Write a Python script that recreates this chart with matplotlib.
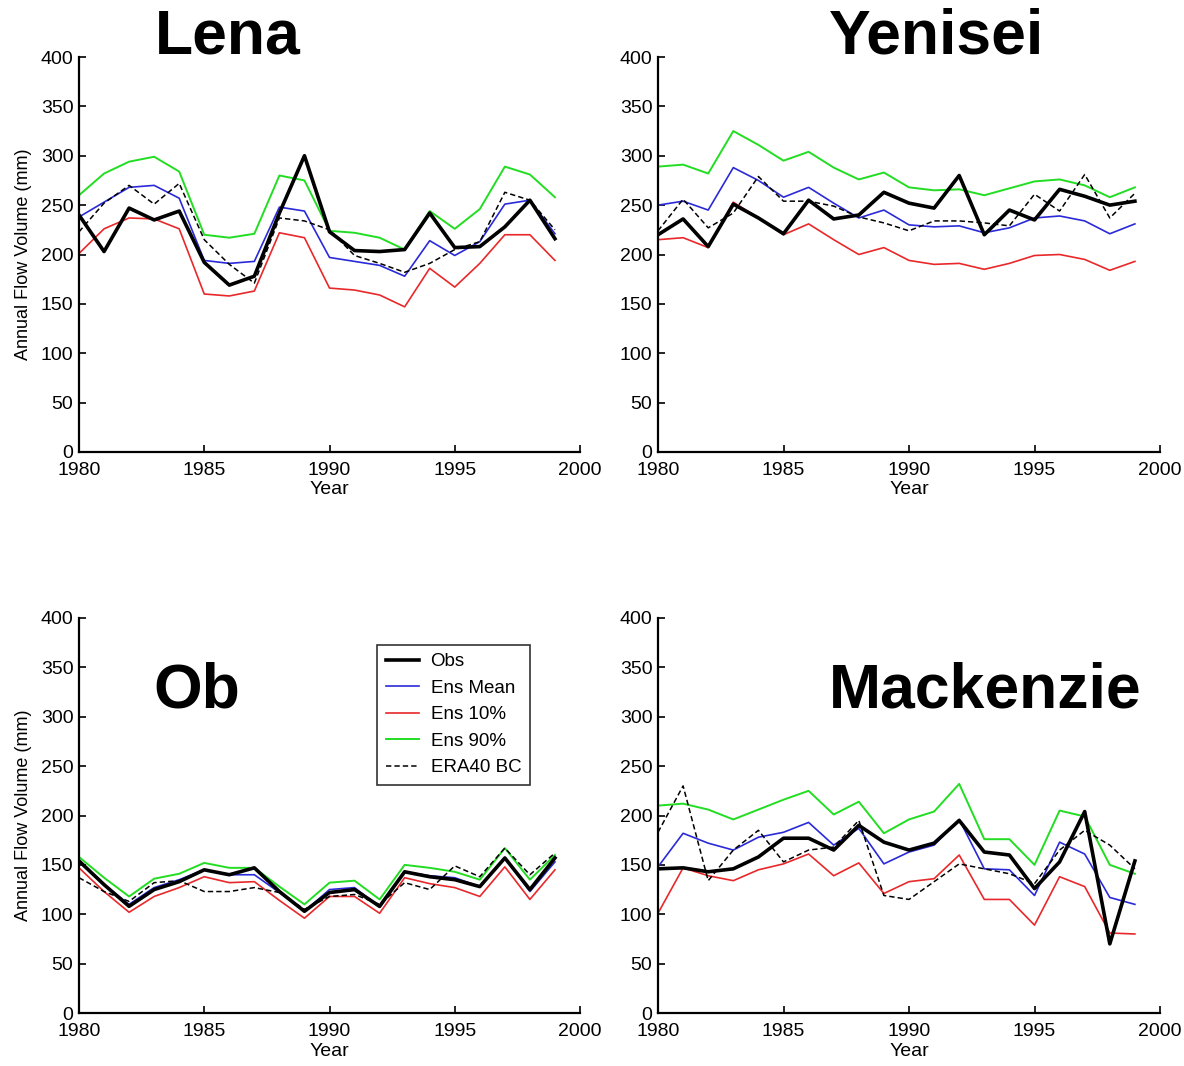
import matplotlib
matplotlib.use("Agg")
import matplotlib.pyplot as plt
import numpy as np

years = list(range(1980, 2000))

basins = ["Lena", "Yenisei", "Ob", "Mackenzie"]

lena_obs = [240, 203, 247, 235, 244, 192, 169, 178, 242, 300, 223, 204, 203, 205, 242, 207, 208, 228, 255, 216]
lena_mean = [238, 253, 268, 270, 257, 194, 191, 193, 248, 244, 197, 193, 189, 178, 214, 199, 213, 251, 255, 221]
lena_p10 = [201, 226, 237, 236, 226, 160, 158, 163, 222, 217, 166, 164, 159, 147, 186, 167, 191, 220, 220, 194]
lena_p90 = [260, 282, 294, 299, 284, 220, 217, 221, 280, 275, 224, 222, 217, 205, 244, 226, 246, 289, 281, 258]
lena_era = [223, 252, 270, 251, 272, 215, 190, 171, 237, 234, 225, 199, 191, 182, 191, 205, 213, 263, 255, 225]

yen_obs = [220, 236, 208, 251, 237, 221, 255, 236, 240, 263, 252, 247, 280, 220, 245, 235, 266, 259, 250, 254]
yen_mean = [250, 254, 245, 288, 275, 258, 268, 252, 237, 245, 230, 228, 229, 222, 227, 237, 239, 234, 221, 231]
yen_p10 = [215, 217, 207, 253, 237, 220, 231, 215, 200, 207, 194, 190, 191, 185, 191, 199, 200, 195, 184, 193]
yen_p90 = [289, 291, 282, 325, 311, 295, 304, 288, 276, 283, 268, 265, 266, 260, 267, 274, 276, 270, 258, 268]
yen_era = [224, 256, 227, 242, 279, 254, 254, 249, 238, 232, 224, 234, 234, 232, 229, 261, 244, 281, 237, 262]

ob_obs = [154, 130, 108, 125, 133, 145, 140, 147, 123, 103, 122, 125, 108, 143, 138, 135, 128, 157, 125, 157]
ob_mean = [153, 130, 110, 127, 135, 145, 140, 140, 122, 103, 125, 127, 107, 143, 139, 137, 128, 157, 123, 153]
ob_p10 = [147, 123, 102, 118, 127, 138, 132, 133, 114, 96, 118, 118, 101, 137, 131, 127, 118, 148, 115, 145]
ob_p90 = [158, 137, 118, 136, 141, 152, 147, 147, 128, 110, 132, 134, 115, 150, 147, 143, 135, 167, 135, 160]
ob_era = [137, 123, 113, 132, 134, 123, 123, 127, 122, 105, 118, 120, 110, 132, 125, 149, 138, 167, 140, 162]

mac_obs = [146, 147, 143, 146, 158, 177, 177, 165, 190, 173, 165, 172, 195, 163, 160, 126, 153, 204, 70, 154]
mac_mean = [148, 182, 172, 165, 178, 183, 193, 170, 187, 151, 163, 170, 196, 146, 145, 119, 173, 161, 117, 110]
mac_p10 = [101, 147, 139, 134, 145, 151, 161, 139, 152, 121, 133, 136, 160, 115, 115, 89, 138, 128, 81, 80]
mac_p90 = [210, 212, 206, 196, 206, 216, 225, 201, 214, 182, 196, 204, 232, 176, 176, 150, 205, 199, 150, 141]
mac_era = [183, 230, 134, 165, 185, 153, 165, 168, 195, 119, 115, 133, 151, 146, 141, 131, 165, 185, 170, 146]

series_labels = ["Obs", "Ens Mean", "Ens 10%", "Ens 90%", "ERA40 BC"]
data = [
    [lena_obs, lena_mean, lena_p10, lena_p90, lena_era],
    [yen_obs, yen_mean, yen_p10, yen_p90, yen_era],
    [ob_obs, ob_mean, ob_p10, ob_p90, ob_era],
    [mac_obs, mac_mean, mac_p10, mac_p90, mac_era],
]

plt.rcParams['font.family'] = ['Liberation Sans', 'DejaVu Sans']

W, H = 1184, 1066
fig = plt.figure(figsize=(W / 100, H / 100), dpi=100)

def px_axes(x0, y0, x1, y1):
    return fig.add_axes([x0 / W, 1 - y1 / H, (x1 - x0) / W, (y1 - y0) / H])

boxes = [(79, 57, 580, 452), (658, 57, 1160, 452), (79, 618, 580, 1013), (658, 618, 1160, 1013)]
styles = [
    dict(color="black", lw=2.6, ls="-"),
    dict(color="#2a2ad8", lw=1.2, ls="-"),
    dict(color="#e8282a", lw=1.2, ls="-"),
    dict(color="#22dd22", lw=1.4, ls="-"),
    dict(color="black", lw=1.1, ls=(0, (3.5, 2))),
]
draw_order = [3, 1, 2, 4, 0]

for k, box in enumerate(boxes):
    ax = px_axes(*box)
    handles = {}
    for s in draw_order:
        ln, = ax.plot(years, data[k][s], label=series_labels[s], **styles[s])
        handles[s] = ln
    ax.set_xlim(1980, 2000)
    ax.set_ylim(0, 400)
    ax.set_xticks([1980, 1985, 1990, 1995, 2000])
    ax.set_yticks(range(0, 401, 50))
    ax.spines['top'].set_visible(False)
    ax.spines['right'].set_visible(False)
    ax.spines['left'].set_linewidth(1.6)
    ax.spines['bottom'].set_linewidth(1.6)
    ax.tick_params(direction='in', length=5, width=1.2, labelsize=14)
    ax.tick_params(axis='x', pad=7)
    ax.tick_params(axis='y', pad=4)
    ax.set_xlabel("Year", fontsize=14, labelpad=2)
    if k in (0, 2):
        ax.set_ylabel("Annual Flow Volume (mm)", fontsize=13, labelpad=6)
    if k == 2:
        leg = ax.legend([handles[i] for i in range(5)], series_labels, loc='upper left',
                        bbox_to_anchor=(0.595, 0.932), borderaxespad=0,
                        fontsize=13.5, frameon=True,
                        fancybox=False, edgecolor='black', handlelength=1.8,
                        labelspacing=0.5, borderpad=0.45, handletextpad=0.6)
        leg.get_frame().set_linewidth(1.2)

title_pos = [(228, 37), (937, 37), (197, 691), (985, 691)]
for name, (tx, ty) in zip(basins, title_pos):
    fig.text(tx / W, 1 - ty / H, name, ha='center', va='center', fontsize=45,
             fontweight='bold', family=['Liberation Sans', 'DejaVu Sans'])

fig.savefig("out.png", dpi=100)
